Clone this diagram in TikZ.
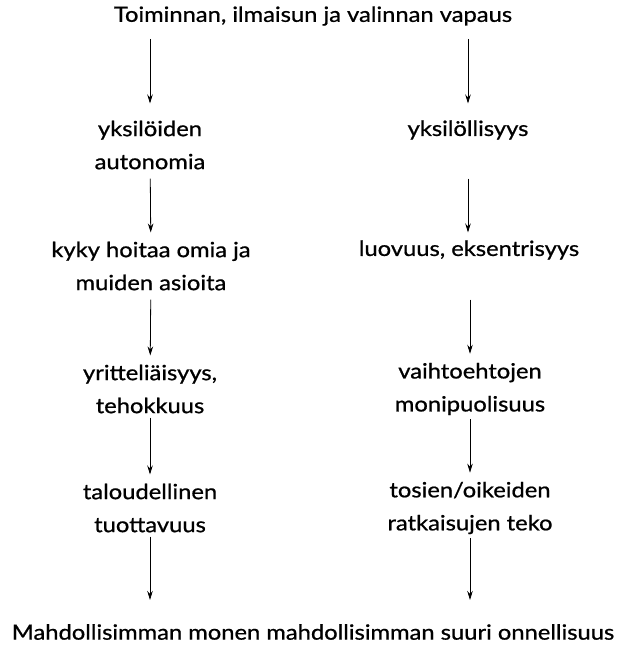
\documentclass[tikz,border=0pt]{standalone}
\usepackage{fontspec}
\setmainfont{Lato}[FakeStretch=1.13, FakeBold=0.8]
\usetikzlibrary{arrows.meta}

\begin{document}
\begin{tikzpicture}[x=1pt, y=-1pt, >={Stealth[length=9pt, width=5.5pt]},
	box/.style={align=center, inner sep=0pt, font=\fontsize{21}{33}\selectfont},
	link/.style={->, line width=0.8pt, shorten <=9pt, shorten >=9pt}]
	\useasboundingbox (0,0) rectangle (625,645);
	% Otsikko
	\node[box] (vapaus) at (313, 16) {Toiminnan, ilmaisun ja valinnan vapaus};
	% Vasen sarake
	\node[box] (autonomia) at (150, 145) {yksilöiden\\autonomia};
	\node[box] (kyky) at (151, 266) {kyky hoitaa omia ja\\muiden asioita};
	\node[box] (tehokkuus) at (150, 389) {yritteliäisyys,\\tehokkuus};
	\node[box] (tuottavuus) at (150, 508) {taloudellinen\\tuottavuus};
	% Oikea sarake
	\node[box] (yksilollisyys) at (468, 130) {yksilöllisyys};
	\node[box] (luovuus) at (469, 250) {luovuus, eksentrisyys};
	\node[box] (vaihtoehdot) at (470, 389) {vaihtoehtojen\\monipuolisuus};
	\node[box] (ratkaisut) at (470, 508) {tosien/oikeiden\\ratkaisujen teko};
	% Lopputulos
	\node[box] (onni) at (313, 632) {Mahdollisimman monen mahdollisimman suuri onnellisuus};
	% Nuolet
	\draw[link, shorten <=13pt, shorten >=17pt] (vapaus.south -| autonomia.north) -- (autonomia.north);
	\draw[link] (autonomia) -- (kyky);
	\draw[link] (kyky) -- (tehokkuus);
	\draw[link, shorten <=4pt] (tehokkuus) -- (tuottavuus);
	\draw[link, shorten <=4pt, shorten >=24pt] (tuottavuus.south) -- (onni.north -| tuottavuus.south);
	\draw[link, shorten <=13pt, shorten >=17pt] (vapaus.south -| yksilollisyys.north) -- (yksilollisyys.north |- autonomia.north);
	\draw[link] (autonomia.south -| yksilollisyys.south) -- (kyky.north -| yksilollisyys.south);
	\draw[link] (kyky.south -| vaihtoehdot.north) -- (vaihtoehdot);
	\draw[link, shorten <=4pt] (vaihtoehdot) -- (ratkaisut);
	\draw[link, shorten <=4pt, shorten >=24pt] (ratkaisut.south) -- (onni.north -| ratkaisut.south);
\end{tikzpicture}
\end{document}
